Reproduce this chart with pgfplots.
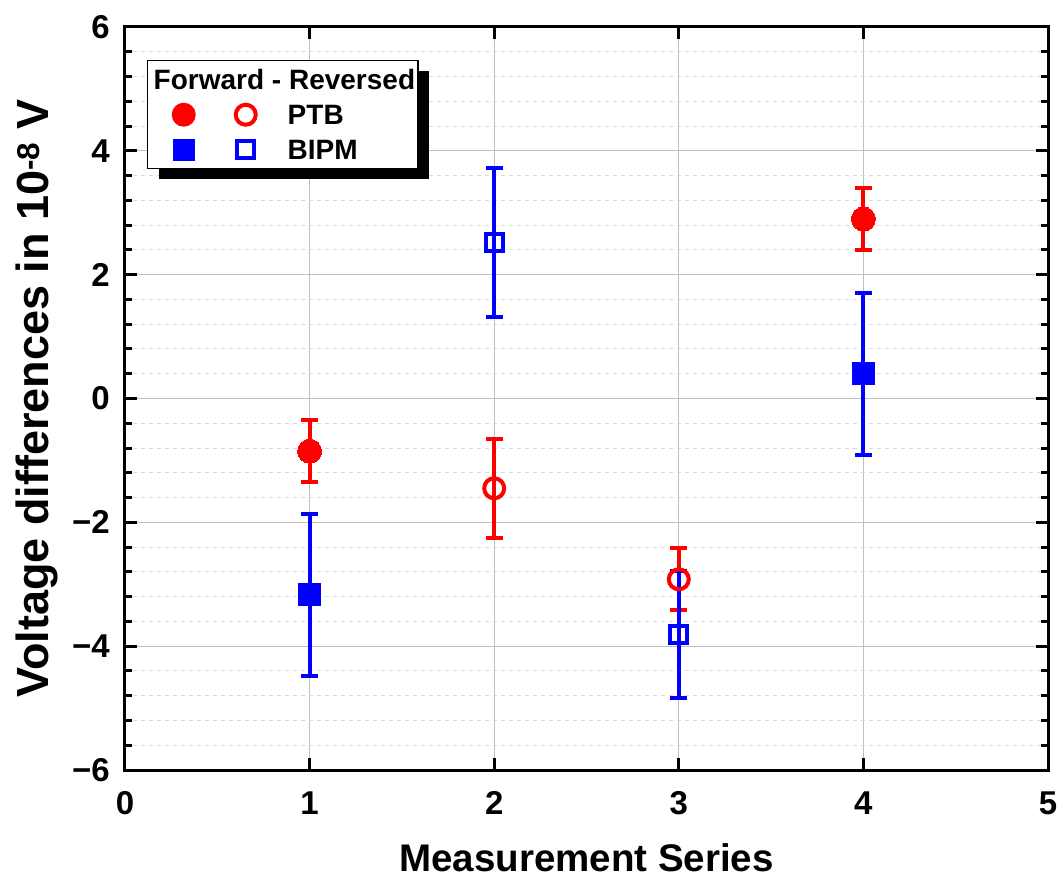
\documentclass[border=0pt]{standalone}
\usepackage{fontspec}
\setmainfont{Liberation Sans}
\usepackage{pgfplots}
\pgfplotsset{compat=1.18}
\usetikzlibrary{shadows}
\begin{document}
\begin{tikzpicture}
\useasboundingbox (-125pt,-109pt) rectangle (938pt,770pt);
\begin{axis}[
  scale only axis,
  width=923pt, height=743pt,
  xmin=0, xmax=5, ymin=-6, ymax=6,
  xtick={0,1,2,3,4,5},
  xticklabels={0,1,2,3,4,5},
  ytick={-6,-4,-2,0,2,4,6},
  yticklabels={−6,−4,−2,0,2,4,6},
  minor y tick num=4,
  tick align=inside,
  major tick length=12pt,
  minor tick length=7pt,
  tick style={line width=3pt, black},
  axis line style={line width=3pt},
  xmajorgrids, ymajorgrids, yminorgrids,
  major grid style={line width=1pt, gray!50},
  minor grid style={line width=1pt, gray!30, dash pattern=on 4pt off 4pt},
  xticklabel style={font=\fontsize{33}{36}\selectfont\bfseries, anchor=center, yshift=-33pt},
  yticklabel style={font=\fontsize{33}{36}\selectfont\bfseries, anchor=east, inner sep=0pt, xshift=-15pt},
  xlabel={Measurement Series},
  ylabel={Voltage differences in 10\textsuperscript{-8} V},
  xlabel style={font=\fontsize{38.5}{42}\selectfont\bfseries, at={(axis description cs:0.5,0)}, anchor=center, yshift=-88pt},
  ylabel style={font=\fontsize{45}{48}\selectfont\bfseries, at={(axis description cs:-0.0953,0.5)}, anchor=center, rotate=0},
  legend cell align=left,
  legend style={at={(axis description cs:0.02384,0.95559)}, anchor=north west,
    draw=black, line width=1.5pt, fill=white,
    inner xsep=0pt, inner ysep=1.5pt, row sep=0pt, column sep=0pt,
    nodes={inner sep=0pt, text depth=0pt, font=\fontsize{28}{30}\selectfont\bfseries},
    drop shadow={shadow xshift=11pt, shadow yshift=-10pt, fill=black, opacity=1}},
]
% PTB forward
\addplot[forget plot, only marks, red, mark=*, mark size=12pt, mark options={draw=red, fill=red, line width=0pt},
  error bars/.cd, y dir=both, y explicit,
  error bar style={line width=4pt, red},
  error mark options={rotate=90, mark size=8.5pt, line width=4pt, red}]
  coordinates {(1,-0.85) +- (0,0.5) (4,2.9) +- (0,0.5)};
% PTB reversed
\addplot[forget plot, only marks, red, mark=o, mark size=10pt, mark options={draw=red, fill=white, line width=4pt},
  error bars/.cd, y dir=both, y explicit,
  error bar style={line width=4pt, red},
  error mark options={rotate=90, mark size=8.5pt, line width=4pt, red}]
  coordinates {(2,-1.45) +- (0,0.8) (3,-2.92) +- (0,0.5)};
% BIPM forward
\addplot[forget plot, only marks, blue, mark=square*, mark size=11pt, mark options={draw=blue, fill=blue, line width=0pt},
  error bars/.cd, y dir=both, y explicit,
  error bar style={line width=4pt, blue},
  error mark options={rotate=90, mark size=8.5pt, line width=4pt, blue}]
  coordinates {(1,-3.17) +- (0,1.31) (4,0.40) +- (0,1.31)};
% BIPM reversed
\addplot[forget plot, only marks, blue, mark=square, mark size=8.5pt, mark options={draw=blue, fill=white, line width=4pt},
  error bars/.cd, y dir=both, y explicit,
  error bar style={line width=4pt, blue},
  error mark options={rotate=90, mark size=8.5pt, line width=4pt, blue}]
  coordinates {(2,2.52) +- (0,1.2) (3,-3.81) +- (0,1.02)};

\addlegendimage{legend image code/.code={%
  \pgfpathrectangle{\pgfpoint{-36pt}{-17.5pt}}{\pgfpoint{140pt}{35pt}}\pgfusepath{use as bounding box}}}
\addlegendentry{\makebox[130pt][l]{\hspace*{-134pt}Forward - Reversed}}
\addlegendimage{legend image code/.code={%
  \pgfpathrectangle{\pgfpoint{-36pt}{-17.5pt}}{\pgfpoint{140pt}{35pt}}\pgfusepath{use as bounding box}%
  \pgfsetfillcolor{red}\pgfpathcircle{\pgfpoint{0pt}{0pt}}{12pt}\pgfusepath{fill}%
  \pgfsetstrokecolor{red}\pgfsetfillcolor{white}\pgfsetlinewidth{4pt}%
  \pgfpathcircle{\pgfpoint{62pt}{0pt}}{10pt}\pgfusepath{fill,stroke}}}
\addlegendentry{PTB}
\addlegendimage{legend image code/.code={%
  \pgfpathrectangle{\pgfpoint{-36pt}{-17.5pt}}{\pgfpoint{140pt}{35pt}}\pgfusepath{use as bounding box}%
  \pgfsetfillcolor{blue}\pgfpathrectangle{\pgfpoint{-11pt}{-11pt}}{\pgfpoint{22pt}{22pt}}\pgfusepath{fill}%
  \pgfsetstrokecolor{blue}\pgfsetfillcolor{white}\pgfsetlinewidth{4pt}%
  \pgfpathrectangle{\pgfpoint{53.5pt}{-8.5pt}}{\pgfpoint{17pt}{17pt}}\pgfusepath{fill,stroke}}}
\addlegendentry{BIPM}
\end{axis}
\end{tikzpicture}
\end{document}
